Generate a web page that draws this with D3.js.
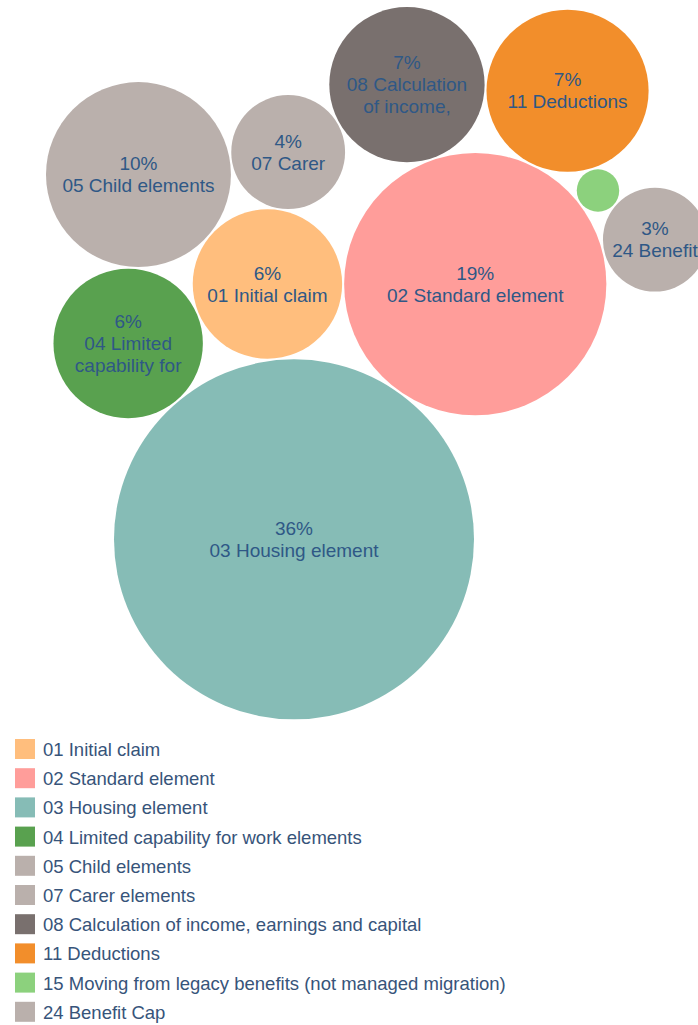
<!DOCTYPE html>
<html>
<head>
<meta charset="utf-8">
<script src="https://cdn.jsdelivr.net/npm/d3@7"></script>
<style>
  html, body { margin: 0; padding: 0; background: #ffffff; }
  svg { display: block; font-family: "Liberation Sans", Arial, sans-serif; }
</style>
</head>
<body>
<svg id="chart" width="698" height="1025"></svg>
<script>
// Universal Credit elements: share of total (%), in category order
const categories = [
  "01 Initial claim",
  "02 Standard element",
  "03 Housing element",
  "04 Limited capability for work elements",
  "05 Child elements",
  "07 Carer elements",
  "08 Calculation of income, earnings and capital",
  "11 Deductions",
  "15 Moving from legacy benefits (not managed migration)",
  "24 Benefit Cap"
];
const shares = [6.2, 19.1, 36.0, 6.2, 9.5, 3.6, 6.7, 7.3, 0.5, 3.0];
const colours = [
  "#FFBE7D", "#FF9D9A", "#86BCB6", "#59A14F", "#BAB0AC",
  "#BAB0AC", "#79706E", "#F28E2B", "#8CD17D", "#BAB0AC"
];

const svg = d3.select("#chart");

const textColour = "#2f5886";
const legendTextColour = "#37547a";

// bubble area proportional to share
const rScale = d3.scaleSqrt().domain([0, 36]).range([0, 180]);
const gap = 1; // spacing kept between neighbouring bubbles

const nodes = categories.map((name, i) => ({
  name, value: shares[i], colour: colours[i],
  radius: rScale(shares[i]), r: rScale(shares[i]) + gap
}));

// ---- front-chain circle packing: each new circle is placed tangent to the
// most recently placed circle and its successor on the chain ----
function place(b, a, c) {
  const dx = b.x - a.x, dy = b.y - a.y, d2 = dx * dx + dy * dy;
  let x, y, a2, b2;
  if (d2) {
    a2 = a.r + c.r; a2 *= a2;
    b2 = b.r + c.r; b2 *= b2;
    if (a2 > b2) {
      x = (d2 + b2 - a2) / (2 * d2);
      y = Math.sqrt(Math.max(0, b2 / d2 - x * x));
      c.x = b.x - x * dx - y * dy;
      c.y = b.y - x * dy + y * dx;
    } else {
      x = (d2 + a2 - b2) / (2 * d2);
      y = Math.sqrt(Math.max(0, a2 / d2 - x * x));
      c.x = a.x + x * dx - y * dy;
      c.y = a.y + x * dy + y * dx;
    }
  } else {
    c.x = a.x + c.r; c.y = a.y;
  }
}
function intersects(a, b) {
  const dr = a.r + b.r - 1e-6, dx = b.x - a.x, dy = b.y - a.y;
  return dr > 0 && dr * dr > dx * dx + dy * dy;
}
function packChain(circles) {
  const n = circles.length;
  let a = circles[0], b = circles[1], c;
  a.x = -b.r; a.y = 0; b.x = a.r; b.y = 0;
  place(b, a, c = circles[2]);
  a = { _: a }; b = { _: b }; c = { _: c };
  a.next = c.previous = b;
  b.next = a.previous = c;
  c.next = b.previous = a;
  // start on the pair (third circle, its successor)
  a = c; b = c.next;
  pack: for (let i = 3; i < n; ++i) {
    place(a._, b._, c = circles[i]);
    c = { _: c };
    let j = b.next, k = a.previous, sj = b._.r, sk = a._.r;
    do {
      if (sj <= sk) {
        if (intersects(j._, c._)) {
          b = j; a.next = b; b.previous = a; --i;
          continue pack;
        }
        sj += j._.r; j = j.next;
      } else {
        if (intersects(k._, c._)) {
          a = k; a.next = b; b.previous = a; --i;
          continue pack;
        }
        sk += k._.r; k = k.previous;
      }
    } while (j !== k.next);
    c.previous = a; c.next = b; a.next = c; b.previous = c;
    a = c;
  }
}
packChain(nodes);

// shift the cluster so it sits against the top-left margins
const marginLeft = 46, marginTop = 7;
const x0 = d3.min(nodes, d => d.x - d.radius);
const y0 = d3.min(nodes, d => d.y - d.radius);
nodes.forEach(d => { d.x += marginLeft - x0; d.y += marginTop - y0; });

// ---- bubbles ----
const bubbles = svg.append("g").attr("class", "bubbles")
  .selectAll("g").data(nodes).join("g")
  .attr("transform", d => `translate(${d.x},${d.y})`);

bubbles.append("circle")
  .attr("r", d => d.radius)
  .attr("fill", d => d.colour);

// ---- labels: percentage + name wrapped to the bubble width ----
const fontSize = 19, lineH = 22;
const measurer = document.createElement("canvas").getContext("2d");
measurer.font = `${fontSize}px "Liberation Sans", Arial, sans-serif`;

function wrap(text, width) {
  const words = text.split(" ");
  const lines = [];
  let line = "";
  words.forEach(w => {
    const test = line ? line + " " + w : w;
    if (line && measurer.measureText(test).width > width) {
      lines.push(line); line = w;
    } else line = test;
  });
  if (line) lines.push(line);
  return lines;
}

bubbles.each(function (d) {
  const maxLines = Math.floor(1.1 * d.radius / lineH);
  if (maxLines < 2) return;
  const lines = [Math.round(d.value) + "%"]
    .concat(wrap(d.name, 1.7 * d.radius).slice(0, maxLines - 1));
  const top = -(lines.length - 1) * lineH / 2;
  d3.select(this).append("text")
    .attr("text-anchor", "middle")
    .attr("font-size", fontSize)
    .attr("fill", textColour)
    .selectAll("tspan").data(lines).join("tspan")
    .attr("x", 0)
    .attr("y", (l, i) => top + i * lineH)
    .attr("dy", "0.35em")
    .text(l => l);
});

// ---- legend ----
const legendY = d3.scaleBand()
  .domain(categories)
  .range([739, 739 + 29.2 * categories.length])
  .paddingInner(0);

const legend = svg.append("g").attr("class", "legend")
  .selectAll("g").data(nodes).join("g")
  .attr("transform", d => `translate(15,${legendY(d.name)})`);

legend.append("rect")
  .attr("width", 20).attr("height", 20)
  .attr("fill", d => d.colour);

legend.append("text")
  .attr("x", 28).attr("y", 17)
  .attr("font-size", 18.5)
  .attr("fill", legendTextColour)
  .text(d => d.name);
</script>
</body>
</html>
